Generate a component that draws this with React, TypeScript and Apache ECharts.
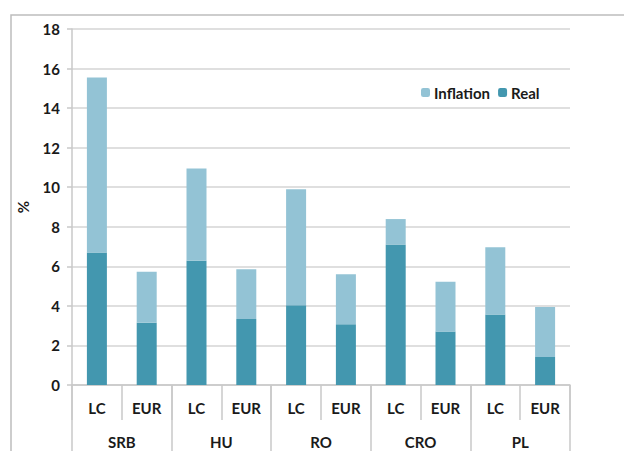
import React, { useEffect, useRef } from "react";
import * as echarts from "echarts";

const subCategories = ["LC", "EUR", "LC", "EUR", "LC", "EUR", "LC", "EUR", "LC", "EUR"];
const groups = ["SRB", "HU", "RO", "CRO", "PL"];
const realValues = [6.7, 3.15, 6.28, 3.34, 4.03, 3.07, 7.11, 2.71, 3.57, 1.42];
const inflationValues = [8.85, 2.58, 4.67, 2.51, 5.87, 2.53, 1.28, 2.51, 3.39, 2.52];
const yTicks = { min: 0, max: 18, interval: 2 };

const FONT = "Lato";
const TXT = "#1a1a1a";
const LINE = "#c8c8c8";
const FS = 15;
const FW = "bold";

export default function App() {
  const ref = useRef<HTMLDivElement>(null);
  useEffect(() => {
    if (!ref.current) return;
    const chart = echarts.init(ref.current, undefined, { renderer: "svg" });
    chart.setOption({
      animation: false,
      textStyle: { fontFamily: FONT },
      graphic: [
        {
          type: "rect",
          shape: { x: 11, y: 15, width: 700, height: 600 },
          style: { fill: "none", stroke: "#bdbdbd", lineWidth: 1.5 },
          silent: true,
          z: -1,
        },
      ],
      legend: {
        data: ["Inflation", "Real"],
        left: 416,
        top: 80,
        itemWidth: 9,
        itemHeight: 9,
        itemGap: 8,
        textStyle: { fontFamily: FONT, fontSize: FS, fontWeight: FW, color: TXT, padding: [0, 0, 0, -1] },
      },
      grid: { left: 72, right: 54, top: 29, bottom: 66, containLabel: false },
      xAxis: [
        {
          type: "category",
          data: subCategories,
          position: "bottom",
          axisLine: { show: true, lineStyle: { color: LINE, width: 1.5 } },
          axisTick: { show: true, interval: 0, length: 35, lineStyle: { color: LINE, width: 1.5 } },
          axisLabel: { interval: 0, margin: 15, fontSize: FS, fontWeight: FW, color: TXT, fontFamily: FONT },
        },
        {
          type: "category",
          data: groups,
          position: "bottom",
          axisLine: { show: false },
          axisTick: { show: true, interval: 0, length: 70, lineStyle: { color: LINE, width: 1.5 } },
          axisLabel: { interval: 0, margin: 49, fontSize: FS, fontWeight: FW, color: TXT, fontFamily: FONT },
        },
      ],
      yAxis: {
        type: "value",
        min: yTicks.min,
        max: yTicks.max,
        interval: yTicks.interval,
        name: "%",
        nameLocation: "middle",
        nameGap: 42,
        nameRotate: 90,
        nameTextStyle: { fontSize: FS, fontWeight: FW, color: TXT, fontFamily: FONT },
        axisLine: { show: true, lineStyle: { color: LINE, width: 1.5 } },
        axisTick: { show: true, length: 5, lineStyle: { color: LINE, width: 1.5 } },
        axisLabel: { margin: 12, fontSize: FS, fontWeight: FW, color: TXT, fontFamily: FONT },
        splitLine: { show: true, lineStyle: { color: "#d4d4d4", width: 1.5 } },
      },
      series: [
        {
          name: "Real",
          type: "bar",
          stack: "total",
          data: realValues,
          barWidth: 20,
          itemStyle: { color: "#4397AF" },
        },
        {
          name: "Inflation",
          type: "bar",
          stack: "total",
          data: inflationValues,
          barWidth: 20,
          itemStyle: { color: "#93C3D5" },
        },
      ],
    });
    return () => chart.dispose();
  }, []);
  return <div ref={ref} style={{ width: 624, height: 451, position: "absolute", left: 0, top: 0 }} />;
}
